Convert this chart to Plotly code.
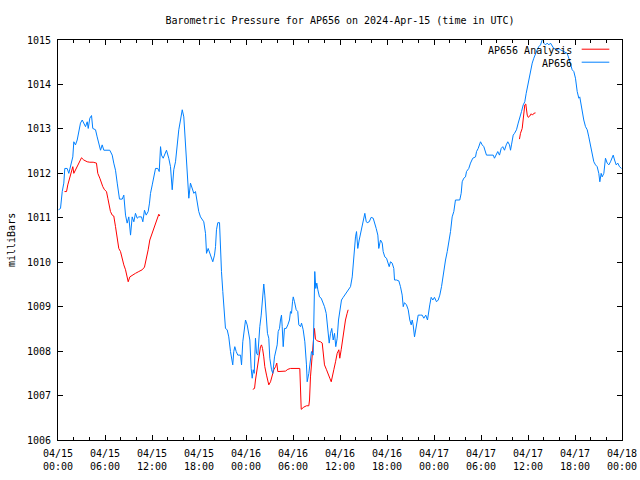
import pandas as pd
import plotly.graph_objects as go

BASE = pd.Timestamp("2024-04-15 00:00")

# Station observations (hours after 2024-04-15 00:00 UTC, millibars)
obs_hours = [
    0.06, 0.32, 0.54, 0.74, 0.87, 1.17, 1.38, 1.60, 1.89, 2.02, 2.23, 2.45, 2.66, 2.87, 3.09, 3.29,
    3.51, 3.73, 3.86, 4.06, 4.28, 4.44, 4.79, 5.00, 5.30, 5.43, 5.64, 5.85, 6.61, 6.92, 7.12, 7.34,
    7.56, 7.76, 7.85, 8.20, 8.40, 8.62, 8.83, 9.04, 9.26, 9.47, 9.68, 9.89, 10.11, 10.31, 10.66, 10.83,
    11.04, 11.26, 11.51, 11.68, 11.81, 12.03, 12.23, 12.45, 12.74, 12.92, 13.09, 13.21, 13.43, 13.63,
    13.85, 14.14, 14.36, 14.58, 14.78, 15.00, 15.22, 15.42, 15.64, 15.86, 16.06, 16.28, 16.49, 16.70,
    16.91, 17.13, 17.34, 17.55, 17.77, 17.97, 18.19, 18.61, 18.83, 18.96, 19.17, 19.47, 19.76, 19.98,
    20.11, 20.23, 20.40, 20.62, 20.74, 20.87, 21.04, 21.17, 21.38, 21.60, 21.80, 22.02, 22.15, 22.31,
    22.44, 22.57, 22.75, 22.95, 23.30, 23.43, 23.59, 23.81, 23.94, 24.15, 24.36, 24.49, 24.66, 24.79,
    24.92, 25.05, 25.21, 25.34, 25.51, 25.63, 25.76, 25.94, 26.07, 26.20, 26.27, 26.40, 26.58, 26.74,
    26.91, 27.04, 27.26, 27.42, 27.64, 27.86, 27.98, 28.11, 28.28, 28.40, 28.53, 28.62, 28.75, 28.91,
    29.13, 29.34, 29.55, 29.68, 29.81, 29.94, 30.03, 30.19, 30.41, 30.61, 30.74, 30.96, 31.09, 31.30,
    31.51, 31.72, 31.81, 32.02, 32.23, 32.36, 32.58, 32.78, 32.91, 33.04, 33.17, 33.38, 33.60, 33.80,
    34.02, 34.24, 34.37, 34.49, 34.62, 34.79, 34.95, 35.13, 35.30, 35.46, 35.64, 35.81, 35.97, 36.19,
    36.41, 36.61, 36.83, 37.05, 37.34, 37.56, 37.69, 37.85, 37.98, 38.11, 38.27, 38.45, 38.62, 38.83,
    39.04, 39.17, 39.35, 39.47, 39.73, 39.98, 40.24, 40.40, 40.62, 40.83, 40.95, 41.17, 41.39, 41.51,
    41.72, 41.94, 42.10, 42.28, 42.45, 42.66, 42.87, 42.96, 43.21, 43.51, 43.72, 43.94, 44.07, 44.23,
    44.49, 44.71, 44.91, 45.09, 45.22, 45.34, 45.51, 45.68, 45.80, 45.98, 46.28, 46.49, 46.70, 46.95,
    47.17, 47.34, 47.46, 47.64, 47.85, 48.06, 48.32, 48.54, 48.74, 48.96, 49.12, 49.25, 49.47, 49.69,
    49.89, 50.11, 50.32, 50.53, 50.74, 51.29, 51.47, 51.60, 51.80, 52.02, 52.15, 52.44, 52.66, 52.95,
    53.30, 53.43, 53.64, 53.94, 54.15, 54.36, 54.70, 55.56, 55.72, 55.94, 56.14, 56.36, 56.58, 56.78,
    57.00, 57.22, 57.42, 57.64, 57.77, 57.89, 58.11, 58.28, 58.53, 58.75, 58.95, 59.17, 59.39, 59.59,
    59.77, 59.90, 60.03, 60.19, 60.32, 60.54, 60.74, 60.96, 61.17, 61.38, 61.60, 61.81, 61.94, 62.01,
    62.23, 62.45, 62.66, 62.87, 63.09, 63.29, 63.73, 63.94, 64.15, 64.57, 65.00, 65.21, 65.43, 65.64,
    65.85, 66.06, 66.28, 66.49, 66.61, 66.70, 66.92, 67.12, 67.34, 67.56, 67.76, 67.98, 68.20, 68.40,
    68.62, 68.83, 69.04, 69.17, 69.34, 69.47, 69.68, 69.89, 70.11, 70.32, 70.53, 70.75, 70.88, 71.05,
    71.26, 71.46, 71.68, 71.94,
]
obs_mb = [
    1011.18, 1011.21, 1011.59, 1011.78, 1012.11, 1012.11, 1012.00, 1012.15, 1012.37, 1012.71, 1012.64, 1012.75, 1012.98, 1013.13, 1013.20, 1013.13,
    1013.05, 1013.16, 1013.01, 1013.24, 1013.30, 1013.01, 1012.98, 1012.82, 1012.64, 1012.52, 1012.64, 1012.52, 1012.52, 1012.41, 1012.23, 1012.07,
    1011.78, 1011.55, 1011.42, 1011.42, 1011.51, 1011.06, 1010.88, 1011.02, 1010.61, 1011.02, 1010.91, 1011.10, 1010.99, 1011.02, 1011.02, 1010.91,
    1011.17, 1011.06, 1011.14, 1011.33, 1011.55, 1011.74, 1011.92, 1012.11, 1012.11, 1012.04, 1012.60, 1012.41, 1012.34, 1012.45,
    1012.52, 1012.34, 1012.15, 1011.63, 1012.08, 1012.26, 1012.71, 1012.98, 1013.20, 1013.43, 1013.27, 1012.68, 1012.15, 1011.44,
    1011.78, 1011.63, 1011.55, 1011.59, 1011.36, 1011.14, 1011.02, 1010.91, 1010.65, 1010.20, 1010.31, 1010.16, 1010.01, 1010.16,
    1010.35, 1010.73, 1010.89, 1010.89, 1010.24, 1009.79, 1009.34, 1008.93, 1008.51, 1008.48, 1008.32, 1007.99, 1007.80, 1007.69,
    1007.99, 1008.10, 1007.99, 1007.91, 1007.91, 1007.69, 1008.21, 1008.51, 1008.70, 1008.59, 1008.40, 1008.25, 1007.61, 1007.39,
    1007.58, 1007.50, 1008.29, 1007.95, 1007.91, 1008.29, 1008.55, 1008.81, 1009.11, 1009.34, 1009.51, 1009.26, 1008.70, 1008.40,
    1008.29, 1007.84, 1007.58, 1007.50, 1007.87, 1008.06, 1008.14, 1008.44, 1008.51, 1008.70, 1008.81, 1008.55, 1008.10, 1008.51,
    1008.51, 1008.59, 1008.70, 1008.89, 1008.85, 1009.11, 1009.22, 1009.11, 1008.93, 1008.89, 1008.59, 1008.55, 1008.63, 1008.48,
    1008.21, 1007.69, 1007.31, 1007.50, 1007.91, 1007.99, 1007.91, 1009.79, 1009.41, 1009.53, 1009.38, 1009.22, 1009.19, 1009.11,
    1009.00, 1008.85, 1008.59, 1008.29, 1008.18, 1008.40, 1008.51, 1008.25, 1008.40, 1008.10, 1008.29, 1008.70, 1008.93, 1009.15,
    1009.21, 1009.26, 1009.30, 1009.38, 1009.45, 1009.67, 1010.01, 1010.31, 1010.57, 1010.69, 1010.31, 1010.50, 1010.65, 1010.76,
    1010.95, 1011.10, 1010.91, 1010.89, 1010.91, 1011.01, 1010.99, 1010.91, 1010.76, 1010.61, 1010.31, 1010.50, 1010.43, 1010.24,
    1010.12, 1010.09, 1010.01, 1009.90, 1010.01, 1009.98, 1009.86, 1009.60, 1009.60, 1009.58, 1009.45, 1009.26, 1009.00, 1009.09,
    1009.04, 1008.93, 1008.70, 1008.59, 1008.70, 1008.59, 1008.32, 1008.48, 1008.63, 1008.81, 1008.81, 1008.81, 1008.74, 1008.81,
    1008.70, 1008.85, 1009.04, 1009.21, 1009.15, 1009.21, 1009.11, 1009.15, 1009.26, 1009.45, 1009.64, 1009.90, 1010.05, 1010.24,
    1010.43, 1010.69, 1011.02, 1011.14, 1011.40, 1011.40, 1011.55, 1011.81, 1011.89, 1011.92, 1012.04, 1012.11, 1012.23, 1012.34,
    1012.37, 1012.49, 1012.56, 1012.71, 1012.64, 1012.60, 1012.41, 1012.41, 1012.34, 1012.41, 1012.49, 1012.41, 1012.56, 1012.60,
    1012.52, 1012.64, 1012.71, 1012.64, 1012.52, 1012.64, 1012.86, 1012.90, 1012.98, 1013.13, 1013.24, 1013.39, 1013.54, 1013.61,
    1013.80, 1013.91, 1014.03, 1014.17, 1014.33, 1014.48, 1014.59, 1014.70, 1014.78, 1014.85, 1014.89, 1015.00, 1015.05, 1014.93,
    1014.89, 1014.93, 1014.89, 1014.93, 1014.85, 1014.81, 1014.78, 1014.81, 1014.78, 1014.74, 1014.70, 1014.59, 1014.48, 1014.33,
    1014.29, 1014.14, 1013.84, 1013.69, 1013.72, 1013.61, 1013.43, 1013.20, 1013.05, 1012.98, 1012.82, 1012.64, 1012.41, 1012.26,
    1012.19, 1012.15, 1012.00, 1011.81, 1012.00, 1011.92, 1012.00, 1012.34, 1012.23, 1012.19, 1012.26, 1012.34, 1012.41, 1012.30,
    1012.19, 1012.23, 1012.15, 1012.11,
]

# Analysis (three separate segments; None marks the gaps)
ana_hours = [
    0.83, 1.09, 1.25, 1.47, 1.69, 1.89, 2.02, 2.23, 2.45, 2.66, 2.87, 3.00, 3.29, 3.73, 4.06, 4.49,
    4.91, 5.08, 5.34, 5.51, 5.72, 5.94, 6.19, 6.36, 6.54, 6.70, 6.92, 7.12, 7.34, 7.56, 7.76, 7.98,
    8.20, 8.40, 8.62, 8.83, 8.96, 9.17, 9.47, 9.89, 10.31, 10.75, 11.04, 11.30, 11.51, 11.72, 11.94,
    12.23, 12.45, 12.66, 12.87, 13.00,
    None,
    24.87, 25.09, 25.21, 25.34, 25.51, 25.69, 25.85, 25.98, 26.11, 26.27, 26.40, 26.62, 26.78, 26.91,
    27.13, 27.34, 27.55, 27.77, 27.93, 28.06, 28.40, 29.04, 29.34, 29.68, 30.87, 30.96, 31.05, 31.38,
    31.72, 32.02, 32.11, 32.23, 32.45, 32.58, 32.74, 32.87, 33.09, 33.51, 33.73, 33.86, 34.02, 34.28,
    34.49, 34.70, 34.88, 35.04, 35.21, 35.43, 35.64, 35.85, 35.97, 36.15, 36.32, 36.48, 36.70, 36.91,
    37.04,
    None,
    58.91, 59.04, 59.26, 59.39, 59.46, 59.59, 59.72, 59.81, 59.90, 60.03, 60.23, 60.41, 60.57, 60.74,
    60.96,
]
ana_mb = [
    1011.59, 1011.59, 1011.74, 1011.89, 1012.08, 1012.15, 1012.00, 1012.08, 1012.15, 1012.23, 1012.34, 1012.35, 1012.30, 1012.26, 1012.25, 1012.25,
    1012.23, 1012.00, 1011.89, 1011.78, 1011.70, 1011.63, 1011.59, 1011.44, 1011.29, 1011.14, 1011.06, 1011.04, 1010.80, 1010.57, 1010.31, 1010.24,
    1010.05, 1009.94, 1009.83, 1009.67, 1009.56, 1009.67, 1009.71, 1009.75, 1009.79, 1009.83, 1009.89, 1010.09, 1010.28, 1010.50, 1010.61,
    1010.73, 1010.84, 1010.99, 1011.08, 1011.04,
    None,
    1007.14, 1007.16, 1007.35, 1007.50, 1007.80, 1007.99, 1008.10, 1008.14, 1008.06, 1007.87, 1007.65, 1007.46, 1007.31, 1007.24,
    1007.31, 1007.46, 1007.58, 1007.65, 1007.73, 1007.54, 1007.54, 1007.55, 1007.59, 1007.61, 1007.61, 1007.14, 1006.69, 1006.74,
    1006.77, 1006.77, 1006.90, 1007.42, 1007.80, 1008.18, 1008.51, 1008.27, 1008.23, 1008.21, 1008.18, 1007.95, 1007.69, 1007.58,
    1007.46, 1007.39, 1007.31, 1007.42, 1007.58, 1007.76, 1007.95, 1008.03, 1007.84, 1008.03, 1008.25, 1008.48, 1008.70, 1008.85,
    1008.93,
    None,
    1012.77, 1012.90, 1013.01, 1013.20, 1013.43, 1013.54, 1013.56, 1013.43, 1013.31, 1013.26, 1013.29, 1013.34, 1013.31, 1013.35,
    1013.36,
]

tick_hours = [0, 6, 12, 18, 24, 30, 36, 42, 48, 54, 60, 66, 72]
tick_labels = [
    "04/15<br>00:00", "04/15<br>06:00", "04/15<br>12:00", "04/15<br>18:00",
    "04/16<br>00:00", "04/16<br>06:00", "04/16<br>12:00", "04/16<br>18:00",
    "04/17<br>00:00", "04/17<br>06:00", "04/17<br>12:00", "04/17<br>18:00",
    "04/18<br>00:00",
]
y_ticks = [1006, 1007, 1008, 1009, 1010, 1011, 1012, 1013, 1014, 1015]

RED = "#ff0000"
BLUE = "#0080ff"
FONT = "DejaVu Sans Mono"
W, H = 640, 480


def to_time(hours):
    return [None if h is None else BASE + pd.Timedelta(hours=h) for h in hours]


fig = go.Figure()
fig.add_trace(go.Scatter(x=to_time(ana_hours), y=ana_mb, mode="lines",
                         line=dict(color=RED, width=1), name="AP656 Analysis",
                         connectgaps=False, showlegend=False))
fig.add_trace(go.Scatter(x=to_time(obs_hours), y=obs_mb, mode="lines",
                         line=dict(color=BLUE, width=1), name="AP656",
                         showlegend=False))

axis_common = dict(showline=True, linecolor="black", linewidth=1, mirror="allticks",
                   ticks="inside", ticklen=5, tickcolor="black", showgrid=False,
                   zeroline=False, automargin=False,
                   tickfont=dict(family=FONT, size=10, color="black"))

fig.update_xaxes(range=[BASE, BASE + pd.Timedelta(hours=72)],
                 tickmode="array", tickvals=to_time(tick_hours), ticktext=tick_labels,
                 ticklabelstandoff=4,
                 minor=dict(ticks="inside", ticklen=3, tickcolor="black",
                            dtick=2 * 3600 * 1000, tick0=BASE),
                 **axis_common)
fig.update_yaxes(range=[1006, 1015], tickmode="array", tickvals=y_ticks,
                 ticktext=[str(v) for v in y_ticks], ticklabelstandoff=4, **axis_common)

# gnuplot-style legend: text right-aligned followed by a line sample
legend_items = [("AP656 Analysis", RED, 0.975), ("AP656", BLUE, 0.9425)]
for label, color, ypos in legend_items:
    fig.add_annotation(text=label, xref="paper", yref="paper", x=0.915, y=ypos,
                       xanchor="right", yanchor="middle", showarrow=False,
                       font=dict(family=FONT, size=10, color="black"))
    fig.add_shape(type="line", xref="paper", yref="paper", x0=0.9285, x1=0.9775,
                  y0=ypos + 0.002, y1=ypos + 0.002, line=dict(color=color, width=1))

fig.add_annotation(text="milliBars", xref="paper", yref="paper",
                   x=-(58 - 11) / 564, y=0.5, xanchor="center", yanchor="middle",
                   textangle=-90, showarrow=False,
                   font=dict(family=FONT, size=10, color="black"))

fig.update_layout(
    width=W, height=H,
    margin=dict(l=58, r=W - 622, t=40, b=H - 440),
    paper_bgcolor="white", plot_bgcolor="white",
    title=dict(text="Barometric Pressure for AP656 on 2024-Apr-15 (time in UTC)",
               x=340 / W, xanchor="center", y=1 - 20 / H, yanchor="middle",
               font=dict(family=FONT, size=10, color="black")),
    font=dict(family=FONT, size=10, color="black"),
)

# remove the browser's default page margin so the figure sits at the window origin
fig.write_html("out.html",
               config={"displayModeBar": False, "staticPlot": True},
               post_script="document.body.style.margin='0';document.body.style.overflow='hidden';")
